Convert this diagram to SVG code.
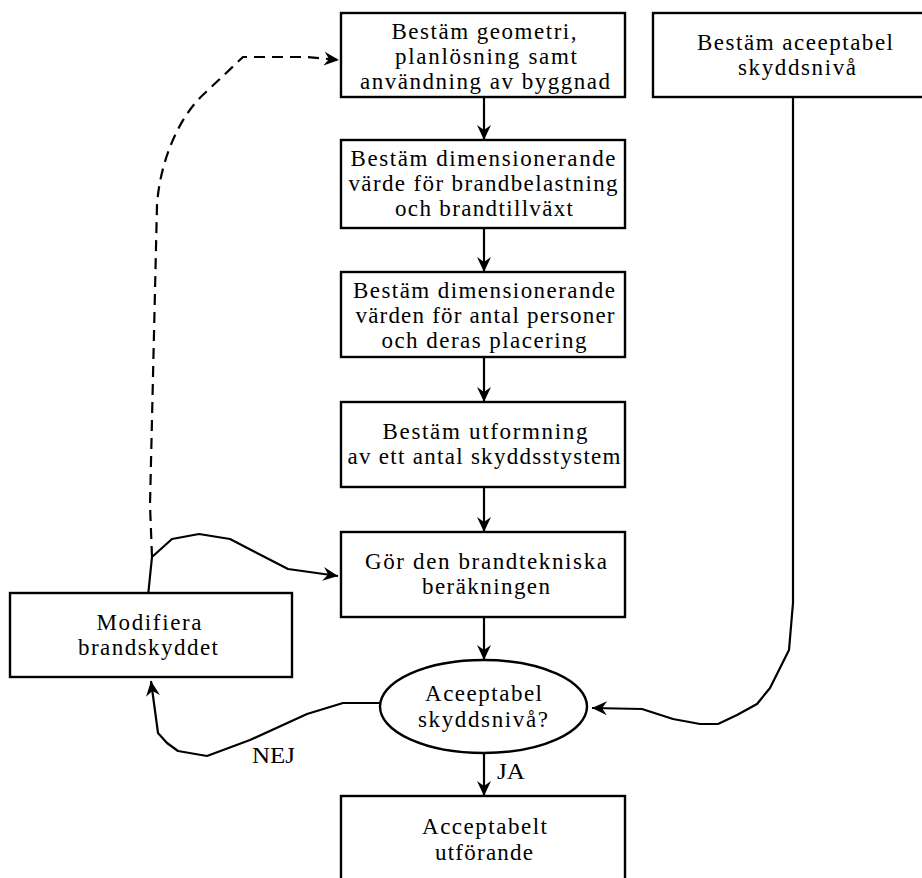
<svg xmlns="http://www.w3.org/2000/svg" width="922" height="878" viewBox="0 0 922 878">
<style>
.box{fill:#fff;stroke:#000;stroke-width:2.4}
.t{font-family:"Liberation Serif","Times New Roman",serif;font-size:23px;fill:#000;text-anchor:middle}
.l{font-family:"Liberation Serif","Times New Roman",serif;font-size:23px;fill:#000}
.c{fill:none;stroke:#000;stroke-width:2.2;stroke-linejoin:round}
.d{stroke-dasharray:11 7}
</style>
<defs>
<marker id="ah" viewBox="-16 -8 17 16" refX="0" refY="0" markerWidth="17" markerHeight="16" markerUnits="userSpaceOnUse" orient="auto">
<path d="M0,0 L-15,-7 L-10,0 L-15,7 Z" fill="#000"/>
</marker>
</defs>
<rect width="922" height="878" fill="#fff"/>
<g id="connectors">
<path class="c" d="M484,97 V140" marker-end="url(#ah)"/>
<path class="c" d="M484,228 V272" marker-end="url(#ah)"/>
<path class="c" d="M484,357 V402" marker-end="url(#ah)"/>
<path class="c" d="M484,487 V532" marker-end="url(#ah)"/>
<path class="c" d="M484,617 V660" marker-end="url(#ah)"/>
<path class="c" d="M484,753 V796" marker-end="url(#ah)"/>
<path class="c" d="M793,97 L793,603 L789,650 L770,688 L757,704 L737,715 L718,724 L700,724 L673,719 L642,709 L592,708" marker-end="url(#ah)"/>
<path class="c" d="M148,596 L152,557 L172,539 L199,534 L230,539 L288,569 L338,576" marker-end="url(#ah)"/>
<path class="c" d="M380,703 L343,703 L307,714 L250,740 L207,756 L178,751 L167,743 L158,733 L151,681" marker-end="url(#ah)"/>
<path class="c d" d="M152,557 L150,505 L157,205 C160,160 180,115 205,93 L243,57 L307,57 L339,60" marker-end="url(#ah)"/>
<text class="l" x="497" y="779" textLength="28" lengthAdjust="spacingAndGlyphs">JA</text>
<text class="l" x="252" y="763" textLength="43" lengthAdjust="spacingAndGlyphs">NEJ</text>
</g>
<g id="n1">
<rect class="box" x="341" y="13" width="284" height="84"/>
<text class="t"><tspan x="484" y="39" textLength="185">Bestäm geometri,</tspan><tspan x="486" y="64" textLength="182">planlösning samt</tspan><tspan x="485" y="89" textLength="250">användning av byggnad</tspan></text>
</g>
<g id="n2">
<rect class="box" x="653" y="13" width="290" height="84"/>
<text class="t"><tspan x="795" y="50" textLength="196">Bestäm aceeptabel</tspan><tspan x="797" y="75" textLength="118">skyddsnivå</tspan></text>
</g>
<g id="n3">
<rect class="box" x="341" y="140" width="284" height="88"/>
<text class="t"><tspan x="483" y="166" textLength="265">Bestäm dimensionerande</tspan><tspan x="483" y="191" textLength="269">värde för brandbelastning</tspan><tspan x="484" y="216" textLength="178">och brandtillväxt</tspan></text>
</g>
<g id="n4">
<rect class="box" x="341" y="272" width="284" height="85"/>
<text class="t"><tspan x="484" y="298" textLength="262">Bestäm dimensionerande</tspan><tspan x="485" y="323" textLength="259">värden för antal personer</tspan><tspan x="484" y="348" textLength="205">och deras placering</tspan></text>
</g>
<g id="n5">
<rect class="box" x="341" y="402" width="284" height="85"/>
<text class="t"><tspan x="485" y="439" textLength="205">Bestäm utformning</tspan><tspan x="484" y="464" textLength="273">av ett antal skyddsstystem</tspan></text>
</g>
<g id="n6">
<rect class="box" x="341" y="532" width="284" height="85"/>
<text class="t"><tspan x="486" y="569" textLength="242">Gör den brandtekniska</tspan><tspan x="486" y="594" textLength="128">beräkningen</tspan></text>
</g>
<g id="n7">
<ellipse class="box" cx="483.5" cy="706.5" rx="103.5" ry="46.5"/>
<text class="t"><tspan x="483.5" y="701" textLength="117">Aceeptabel</tspan><tspan x="483" y="727" textLength="130">skyddsnivå?</tspan></text>
</g>
<g id="n8">
<rect class="box" x="341" y="796" width="284" height="90"/>
<text class="t"><tspan x="484.5" y="834" textLength="125">Acceptabelt</tspan><tspan x="484" y="860" textLength="98">utförande</tspan></text>
</g>
<g id="n9">
<rect class="box" x="10" y="593" width="282" height="84"/>
<text class="t"><tspan x="149" y="630" textLength="105">Modifiera</tspan><tspan x="148" y="655" textLength="140">brandskyddet</tspan></text>
</g>
</svg>
